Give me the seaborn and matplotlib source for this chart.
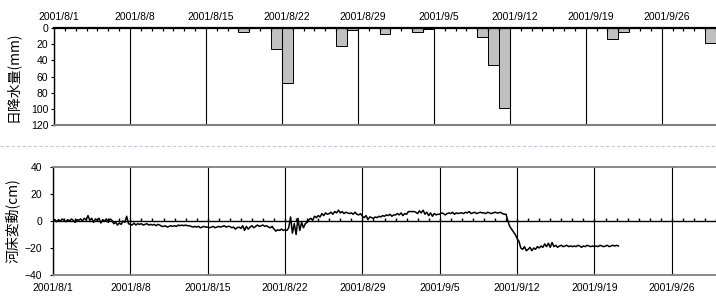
import matplotlib
matplotlib.use('Agg')
import matplotlib.pyplot as plt
import matplotlib.dates as mdates
import matplotlib.ticker as mticker
import matplotlib.transforms as mtransforms
from matplotlib.lines import Line2D
import numpy as np
import pandas as pd
import seaborn as sns

# daily rainfall (mm)
rain_dates = ['2001-08-12', '2001-08-18', '2001-08-21', '2001-08-22', '2001-08-27',
              '2001-08-28', '2001-08-29', '2001-08-31', '2001-09-03', '2001-09-04',
              '2001-09-08', '2001-09-09', '2001-09-10', '2001-09-11', '2001-09-20',
              '2001-09-21', '2001-09-22', '2001-09-30']
rain_mm = [0.5, 5, 26, 68, 22, 3, 0.5, 8, 4.5, 1.5, 0.5, 11.5, 46, 99, 0.5, 13, 4.5, 19]

# river bed change (cm), every 4 hours from 2001/8/1 00:00, one week per list
bed_w1 = [0.5, 1.0, -0.5, 1.0, 0.0, 1.5,
          0.5, -0.5, 1.0, 0.0, 1.5, 0.5,
          -1.0, 1.0, 0.5, 1.5, 0.0, 2.0,
          1.0, 4.0, 0.5, 2.0, -1.0, 1.5,
          0.5, 2.0, -1.5, 1.0, 0.0, 1.5,
          -1.0, 1.5, 0.5, -2.0, -1.0, -3.0,
          -1.5, -2.5, 0.0, -1.0, 3.5, -2.0]
bed_w2 = [-2.5, -3.0, -1.5, -3.0, -2.0, -2.5,
          -2.0, -3.0, -2.5, -2.0, -3.0, -2.5,
          -3.0, -2.5, -3.5, -2.5, -3.0, -4.0,
          -4.0, -3.5, -4.5, -4.0, -3.5, -4.0,
          -3.5, -4.0, -3.0, -3.5, -3.0, -3.5,
          -3.0, -3.5, -3.5, -4.0, -4.5, -4.0,
          -4.5, -4.0, -5.0, -4.5, -4.0, -4.5]
bed_w3 = [-4.5, -5.0, -4.5, -4.0, -5.0, -4.5,
          -4.0, -4.5, -4.0, -3.5, -4.5, -4.0,
          -4.0, -5.0, -4.5, -6.0, -5.0, -4.5,
          -5.5, -3.5, -7.0, -4.0, -6.0, -4.5,
          -3.5, -5.0, -4.0, -3.0, -4.0, -3.5,
          -3.0, -4.0, -3.5, -4.5, -5.0, -4.0,
          -6.0, -7.5, -6.5, -7.0, -6.0, -7.0]
bed_w4 = [-6.5, -7.0, -5.0, 3.0, -9.0, -2.0,
          -10.0, 2.0, -7.0, -1.0, -5.0, -2.0,
          -1.0, 1.0, 2.0, 0.5, 3.5, 2.5,
          4.0, 3.0, 5.5, 4.0, 6.0, 5.0,
          5.5, 6.5, 5.0, 7.0, 6.0, 8.0,
          6.0, 7.0, 5.5, 6.5, 6.0, 5.5,
          6.0, 5.0, 6.5, 5.0, 4.5, 5.5]
bed_w5 = [3.5, 2.5, 4.0, 1.0, 3.0, 2.5,
          2.0, 3.0, 2.5, 3.5, 3.0, 4.0,
          3.5, 4.5, 4.0, 5.0, 3.5, 4.5,
          4.5, 5.5, 4.5, 6.0, 4.0, 5.5,
          5.0, 7.0, 7.0, 7.0, 7.0, 6.5,
          5.5, 7.5, 6.0, 8.0, 5.0, 6.5,
          4.0, 6.0, 3.5, 5.5, 4.5, 5.0]
bed_w6 = [5.0, 6.0, 5.5, 4.5, 5.5, 6.0,
          5.5, 6.5, 5.0, 6.0, 5.5, 6.0,
          6.0, 5.5, 6.5, 6.0, 7.0, 5.5,
          6.0, 6.5, 5.5, 6.0, 6.5, 6.0,
          6.0, 5.5, 6.5, 6.0, 5.5, 6.0,
          6.5, 6.0, 6.0, 6.5, 5.5, 5.0,
          5.0, 0.0, -4.0, -6.0, -8.0, -10.0]
bed_w7 = [-13.0, -15.0, -20.0, -21.0, -19.0, -22.0,
          -21.0, -19.5, -22.0, -20.0, -21.0, -19.0,
          -20.0, -18.5, -19.5, -17.0, -19.0, -16.5,
          -19.5, -16.0, -19.0, -18.0, -19.5, -18.5,
          -18.0, -19.0, -18.5, -18.0, -19.0, -18.5,
          -19.0, -18.5, -19.0, -18.0, -18.5, -19.5,
          -18.5, -19.0, -18.0, -18.5, -19.0, -18.5]
bed_w8 = [-19.0, -18.5, -19.0, -18.0, -18.5, -19.0,
          -18.5, -18.0, -19.0, -18.5, -18.0, -18.5,
          -18.0, -18.5]

bed_cm = bed_w1 + bed_w2 + bed_w3 + bed_w4 + bed_w5 + bed_w6 + bed_w7 + bed_w8
bed_times = mdates.date2num(pd.date_range('2001-08-01', periods=len(bed_cm), freq='4h'))
day_edges = mdates.date2num(pd.date_range('2001-08-01', '2001-10-01', freq='D'))
week_ticks = mdates.date2num(pd.date_range('2001-08-01', '2001-09-26', freq='7D'))

rain_df = pd.DataFrame({'day': mdates.date2num(pd.to_datetime(rain_dates)) + 0.5,
                        'mm': rain_mm})
bed_df = pd.DataFrame({'t': bed_times, 'cm': bed_cm})

plt.rcParams['font.family'] = ['Liberation Sans', 'DejaVu Sans']
jp = ['Noto Sans CJK JP', 'DejaVu Sans']


def date_fmt(v, pos):
    d = mdates.num2date(v)
    return f'{d.year}/{d.month}/{d.day}'


fig = plt.figure(figsize=(7.16, 3.0), dpi=100)
ax1 = fig.add_axes([54 / 716, 1 - 125 / 300, 662 / 716, 97 / 300])
ax2 = fig.add_axes([53 / 716, 1 - 275 / 300, 663 / 716, 108 / 300])

# ---- rainfall ----
sns.histplot(data=rain_df, x='day', weights='mm', bins=list(day_edges), ax=ax1,
             color='#c0c0c0', edgecolor='black', linewidth=0.7, alpha=1)
ax1.set_xlim(day_edges[0], day_edges[-1])
ax1.set_ylim(120, 0)
ax1.set_yticks([0, 20, 40, 60, 80, 100, 120])
ax1.xaxis.tick_top()
ax1.xaxis.set_major_locator(mticker.FixedLocator(week_ticks))
ax1.xaxis.set_minor_locator(mticker.MultipleLocator(1))
ax1.xaxis.set_major_formatter(mticker.FuncFormatter(date_fmt))
ax1.tick_params(axis='x', which='major', length=0, pad=4, labelsize=7.5)
ax1.tick_params(axis='x', which='minor', direction='in', length=2.3, width=0.9,
                color='black', top=True, bottom=False)
ax1.tick_params(axis='y', length=2, pad=2, labelsize=7.5)
ax1.grid(axis='x', which='major', color='black', lw=0.8)
ax1.set_xlabel('')
ax1.set_ylabel('日降水量(mm)', family=jp, fontsize=10)
ax1.yaxis.set_label_coords(-0.052, 0.5)
ax1.spines['top'].set_linewidth(1.6)
ax1.spines['bottom'].set_linewidth(1.5)
ax1.spines['bottom'].set_color('#808080')
ax1.spines['left'].set_linewidth(1)
ax1.spines['right'].set_visible(False)
shift = mtransforms.ScaledTranslation(0.05, 0, fig.dpi_scale_trans)
for lab in ax1.get_xticklabels():
    lab.set_transform(lab.get_transform() + shift)

# ---- bed change ----
sns.lineplot(data=bed_df, x='t', y='cm', ax=ax2, color='black', lw=1.1)
ax2.set_xlim(day_edges[0], day_edges[-2])
ax2.set_ylim(-40, 40)
ax2.set_yticks([-40, -20, 0, 20, 40])
ax2.xaxis.set_major_locator(mticker.FixedLocator(week_ticks))
ax2.xaxis.set_major_formatter(mticker.FuncFormatter(date_fmt))
ax2.tick_params(axis='x', which='major', length=0, pad=6, labelsize=7.5)
ax2.tick_params(axis='y', length=2, pad=6, labelsize=7.5)
ax2.grid(axis='x', which='major', color='black', lw=0.8)
ax2.set_xlabel('')
ax2.set_ylabel('河床変動(cm)', family=jp, fontsize=10)
ax2.yaxis.set_label_coords(-0.05, 0.5)
for s in ['top', 'bottom']:
    ax2.spines[s].set_color('#808080')
    ax2.spines[s].set_linewidth(1.3)
ax2.spines['left'].set_linewidth(1)
ax2.spines['right'].set_visible(False)

# zero line with daily ticks pointing up
ax2.axhline(0, color='black', lw=1, zorder=1.5)
ax2.vlines(day_edges[:-1], 0, 2.4, color='black', lw=1, zorder=1.5)

# dashed page-break style separator
fig.add_artist(Line2D([0, 1], [1 - 146 / 300, 1 - 146 / 300], transform=fig.transFigure,
                      color='#c4c4ec', lw=0.8, ls=(0, (3, 2))))

fig.savefig('out.png', dpi=100)
